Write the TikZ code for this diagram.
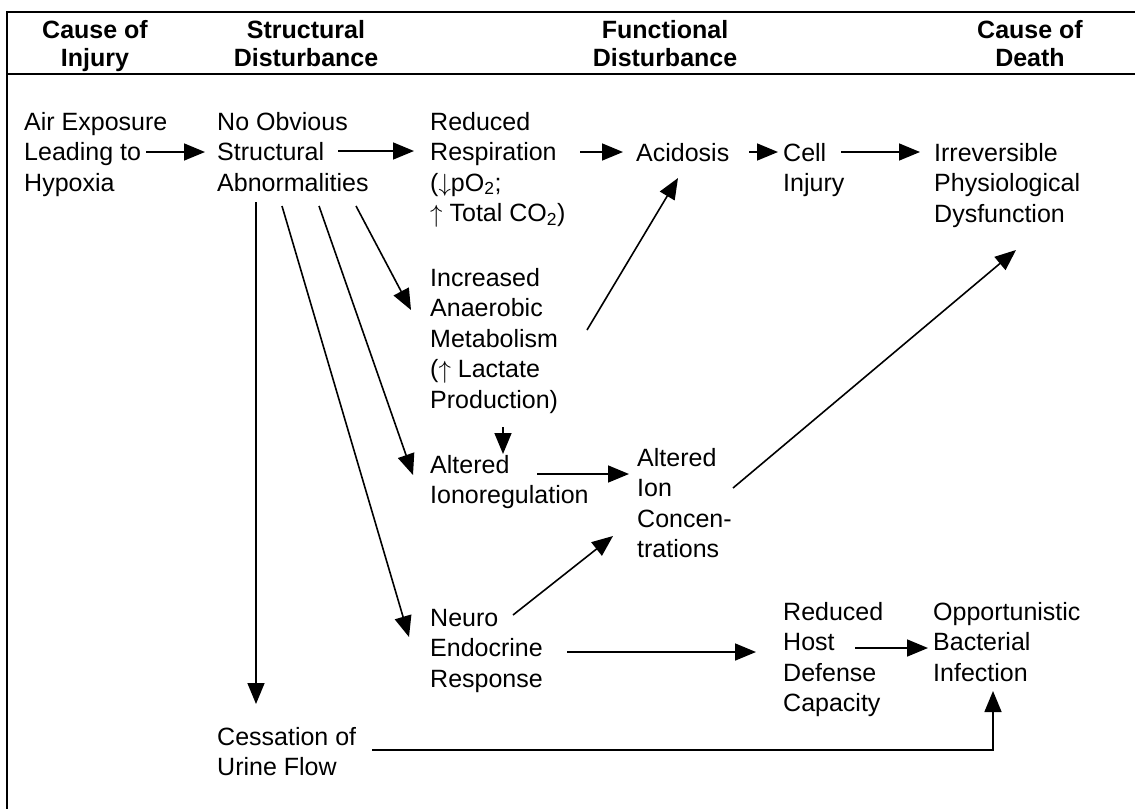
\documentclass[tikz,border=0pt]{standalone}
\usepackage{fontspec}
\setmainfont{Liberation Sans}
\usetikzlibrary{arrows.meta}
\newcommand\mylines[1]{\begin{tabular}[t]{@{}l@{}}#1\end{tabular}}
\newcommand\myhead[1]{\begin{tabular}[t]{@{}c@{}}#1\end{tabular}}
\newcommand\upa{\raisebox{-0.5pt}{$\uparrow$}}
\newcommand\downa{\raisebox{-0.5pt}{$\downarrow$}}
\begin{document}
\begin{tikzpicture}[x=1pt,y=-1pt,
  txt/.style={anchor=base west,inner sep=0pt,font=\fontsize{25}{30.5}\selectfont},
  hd/.style={anchor=base,inner sep=0pt,font=\bfseries\fontsize{25}{28.5}\selectfont},
  arr/.style={line width=1.6pt,-{Triangle[length=21pt,width=17pt]}},
  frame/.style={line width=1.8pt}]
\useasboundingbox (0,0) rectangle (1135,809);
% frame
\coordinate (tl) at (7,12);
\coordinate (tr) at (1135,12);
\coordinate (sl) at (7,74);
\coordinate (sr) at (1135,74);
\coordinate (bl) at (7,809);
\draw[frame] (tr) -- (tl) -- (bl);
\draw[frame] (sl) -- (sr);
% headers
\node[hd] (h1) at (95,38) {\myhead{Cause of\\Injury}};
\node[hd] (h2) at (306,38) {\myhead{Structural\\Disturbance}};
\node[hd] (h3) at (665,38) {\myhead{Functional\\Disturbance}};
\node[hd] (h4) at (1030,38) {\myhead{Cause of\\Death}};
% text blocks
\node[txt] (air) at (24,130) {\mylines{Air Exposure\\Leading to\\Hypoxia}};
\node[txt] (noobv) at (217,130) {\mylines{No Obvious\\Structural\\Abnormalities}};
\node[txt] (resp) at (430,130) {\mylines{Reduced\\Respiration\\(\downa pO\textsubscript{2};\\\upa{} Total CO\textsubscript{2})}};
\node[txt] (acid) at (636,161) {\mylines{Acidosis}};
\node[txt] (cell) at (783,161) {\mylines{Cell\\Injury}};
\node[txt] (irrev) at (934,161) {\mylines{Irreversible\\Physiological\\Dysfunction}};
\node[txt] (incr) at (430,286) {\mylines{Increased\\Anaerobic\\Metabolism\\(\upa{}  Lactate\\Production)}};
\node[txt] (iono) at (430,473) {\mylines{Altered\\Ionoregulation}};
\node[txt] (ion) at (637,466) {\mylines{Altered\\Ion\\Concen-\\trations}};
\node[txt] (neuro) at (430,626) {\mylines{Neuro\\Endocrine\\Response}};
\node[txt] (host) at (783,620) {\mylines{Reduced\\Host\\Defense\\Capacity}};
\node[txt] (opp) at (933,620) {\mylines{Opportunistic\\Bacterial\\Infection}};
\node[txt] (cess) at (217,745) {\mylines{Cessation of\\Urine Flow}};
% connector end points
\coordinate (a1s) at (146,152); \coordinate (a1e) at (205,152);
\coordinate (a2s) at (338,151); \coordinate (a2e) at (414,151);
\coordinate (a3s) at (580,152); \coordinate (a3e) at (623,152);
\coordinate (a4s) at (749,152); \coordinate (a4e) at (778,152);
\coordinate (a5s) at (841,152); \coordinate (a5e) at (920,152);
\coordinate (a6s) at (587,330); \coordinate (a6e) at (678,178);
\coordinate (a7s) at (733,488); \coordinate (a7e) at (1016,250);
\coordinate (a8s) at (256,202); \coordinate (a8e) at (256,704);
\coordinate (a9s) at (282,206); \coordinate (a9e) at (409,637);
\coordinate (a10s) at (319,206); \coordinate (a10e) at (413,475);
\coordinate (a11s) at (356,206); \coordinate (a11e) at (411,310);
\coordinate (a12s) at (503,427); \coordinate (a12e) at (503,454);
\coordinate (a13s) at (537,474); \coordinate (a13e) at (629,474);
\coordinate (a14s) at (513,615); \coordinate (a14e) at (613,536);
\coordinate (a15s) at (567,652); \coordinate (a15e) at (756,652);
\coordinate (a16s) at (855,648); \coordinate (a16e) at (928,648);
\coordinate (a17s) at (372,750); \coordinate (a17e) at (993,691);
% connectors
\draw[arr] (a1s) -- (a1e);
\draw[arr] (a2s) -- (a2e);
\draw[arr] (a3s) -- (a3e);
\draw[arr] (a4s) -- (a4e);
\draw[arr] (a5s) -- (a5e);
\draw[arr] (a6s) -- (a6e);
\draw[arr] (a7s) -- (a7e);
\draw[arr] (a8s) -- (a8e);
\draw[arr] (a9s) -- (a9e);
\draw[arr] (a10s) -- (a10e);
\draw[arr] (a11s) -- (a11e);
\draw[arr] (a12s) -- (a12e);
\draw[arr] (a13s) -- (a13e);
\draw[arr] (a14s) -- (a14e);
\draw[arr] (a15s) -- (a15e);
\draw[arr] (a16s) -- (a16e);
\draw[arr] (a17s) -| (a17e);
\end{tikzpicture}
\end{document}
